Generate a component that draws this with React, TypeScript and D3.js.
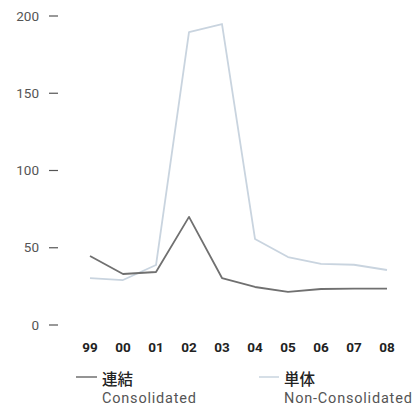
import React from "react";
import * as d3 from "d3";

const years = ["99", "00", "01", "02", "03", "04", "05", "06", "07", "08"];
const consolidated = [44.7, 33, 34.3, 70, 30.4, 24.6, 21.4, 23.3, 23.6, 23.6];
const nonConsolidated = [30.4, 29.1, 38.8, 189.6, 194.8, 55.7, 44, 39.5, 39, 35.6];
const yTicks = [0, 50, 100, 150, 200];

export default function App() {
  const W = 420, H = 406;
  const x = d3.scalePoint<string>().domain(years).range([90, 387]);
  const y = d3.scaleLinear().domain([0, 200]).range([325, 16]);
  const line = d3
    .line<number>()
    .x((_, i) => x(years[i]) as number)
    .y((d) => y(d));
  const font = "Roboto, 'DejaVu Sans', sans-serif";
  const cjk = "'Noto Sans CJK JP', sans-serif";
  return (
    <svg width={W} height={H} style={{ position: "absolute", left: 0, top: 0 }}>
      <rect width={W} height={H} fill="#fff" />
      {yTicks.map((t) => (
        <g key={t}>
          <text x={39} y={y(t)} dy="0.35em" textAnchor="end" fontFamily={font} fontSize={13.5} fill="#555">
            {t}
          </text>
          <line x1={49} x2={58} y1={y(t)} y2={y(t)} stroke="#555" strokeWidth={1.2} />
        </g>
      ))}
      {years.map((yr) => (
        <text key={yr} x={x(yr)} y={352} textAnchor="middle" fontFamily={font} fontWeight={700} fontSize={13.5} fill="#222">
          {yr}
        </text>
      ))}
      <path d={line(nonConsolidated) || ""} fill="none" stroke="#c9d4df" strokeWidth={1.8} strokeLinejoin="round" />
      <path d={line(consolidated) || ""} fill="none" stroke="#707070" strokeWidth={1.8} strokeLinejoin="round" />
      <line x1={76} x2={97} y1={377} y2={377} stroke="#707070" strokeWidth={1.5} />
      <text x={102} y={384.5} fontFamily={cjk} fontWeight={500} fontSize={15.5} fill="#222">連結</text>
      <text x={102} y={402.5} fontFamily={font} fontSize={14.5} letterSpacing={0.8} fill="#555">Consolidated</text>
      <line x1={259} x2={279} y1={377} y2={377} stroke="#c9d4df" strokeWidth={1.5} />
      <text x={284} y={384.5} fontFamily={cjk} fontWeight={500} fontSize={15.5} fill="#222">単体</text>
      <text x={284} y={402.5} fontFamily={font} fontSize={14.5} letterSpacing={0.8} fill="#555">Non-Consolidated</text>
    </svg>
  );
}
